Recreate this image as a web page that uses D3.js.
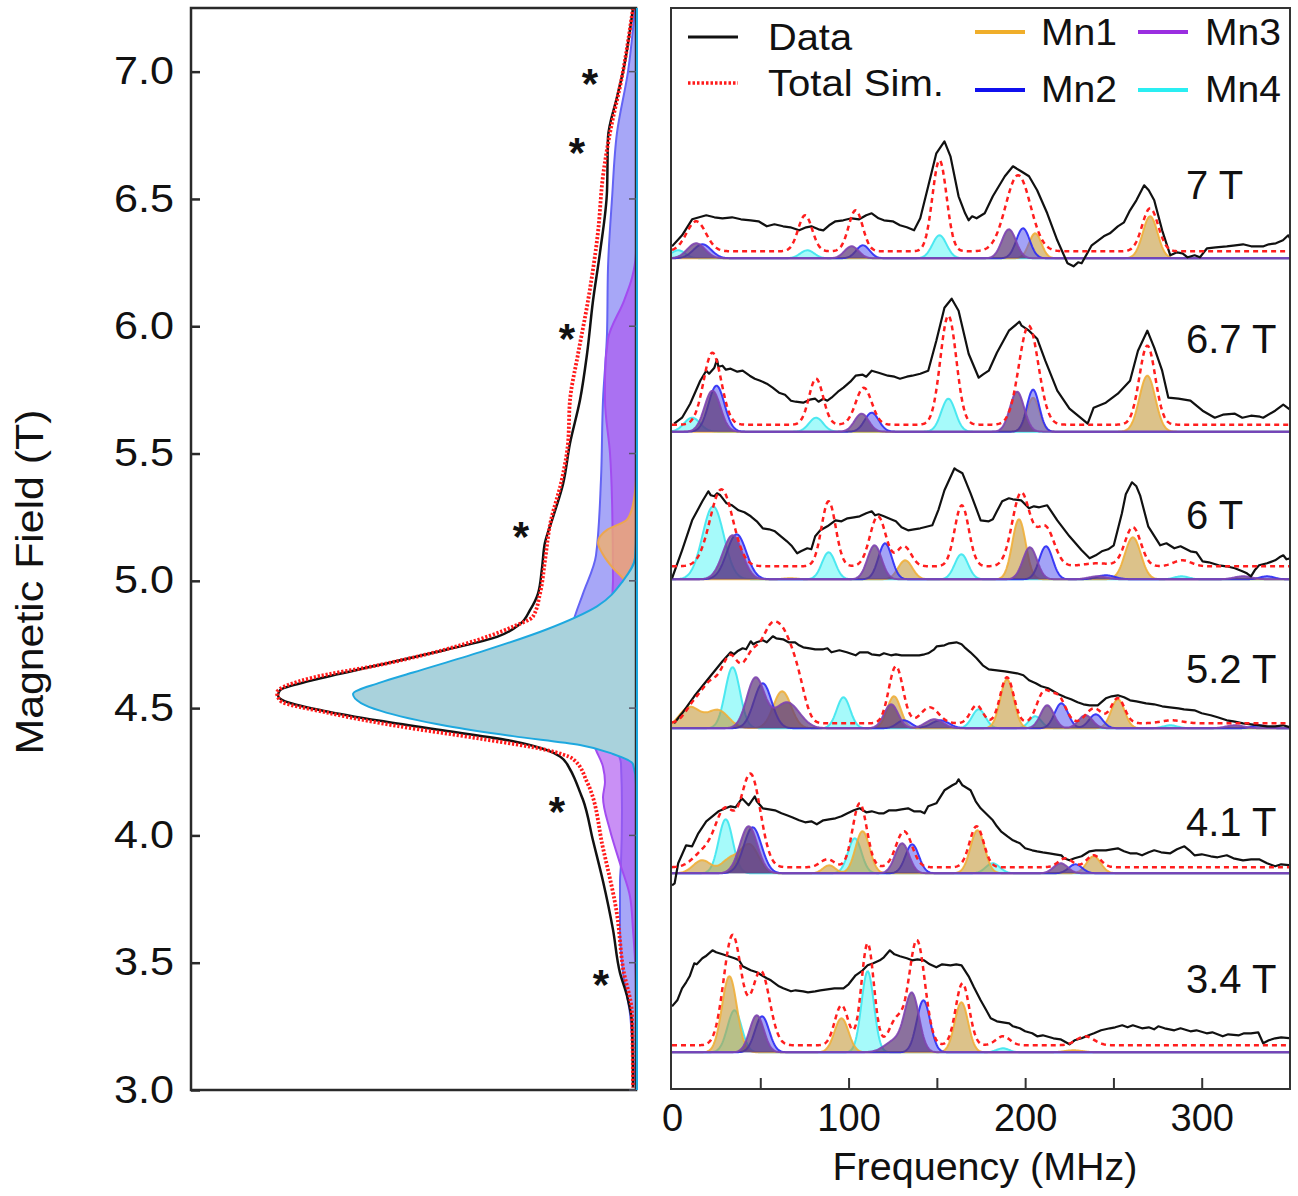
<!DOCTYPE html>
<html><head><meta charset="utf-8">
<script src="https://cdn.jsdelivr.net/npm/d3@7"></script>
<style>body{margin:0;background:#fff} svg{display:block} text{font-family:"Liberation Sans",Arial,sans-serif;fill:#111}</style>
</head><body><svg id="c" width="1298" height="1196"></svg>
<script>
// ---------------- DATA ----------------
// Left panel: [field (T), intensity]
const leftTicks = [3.0,3.5,4.0,4.5,5.0,5.5,6.0,6.5,7.0];
const leftData = [[7.25,.03],[7.0,.13],[6.90,.19],[6.74,.28],[6.53,.29],[6.29,.36],[6.10,.43],[5.89,.49],[5.71,.56],[5.54,.66],[5.38,.73],[5.25,.83],[5.15,.91],[5.05,.94],[4.95,.98],[4.885,1.06],[4.83,1.16],[4.78,1.39],[4.73,1.89],[4.67,2.56],[4.61,3.23],[4.57,3.56],[4.55,3.58],[4.52,3.46],[4.49,3.13],[4.45,2.56],[4.41,1.89],[4.37,1.23],[4.335,.89],[4.31,.76],[4.26,.66],[4.22,.61],[4.17,.56],[4.14,.53],[3.98,.43],[3.82,.33],[3.63,.23],[3.46,.16],[3.37,.09],[3.26,.04],[3.01,.03]];
const leftSim = [[7.25,.03],[6.98,.14],[6.76,.26],[6.59,.33],[6.37,.38],[6.10,.48],[5.89,.58],[5.71,.66],[5.54,.68],[5.40,.74],[5.22,.86],[5.08,.91],[4.95,.96],[4.86,1.03],[4.82,1.23],[4.75,1.73],[4.67,2.56],[4.62,3.23],[4.56,3.59],[4.53,3.56],[4.48,3.06],[4.43,2.39],[4.38,1.56],[4.335,.89],[4.30,.63],[4.21,.49],[3.95,.33],[3.69,.19],[3.48,.13],[3.30,.04],[3.01,.03]];
const leftMn1 = [[5.4,0],[5.30,.03],[5.24,.09],[5.20,.29],[5.15,.38],[5.11,.34],[5.05,.23],[5.01,.13],[4.95,.05],[4.9,0]];
const leftMn2 = [[7.25,.01],[7.0,.08],[6.76,.19],[6.5,.24],[6.23,.28],[5.97,.29],[5.71,.33],[5.4,.35],[5.1,.40],[4.95,.53],[4.85,.62],[4.7,.7],[4.55,.72],[4.45,.62],[4.38,.4],[4.33,.2],[4.28,.15],[4.1,.14],[3.89,.15],[3.82,.16],[3.63,.16],[3.46,.13],[3.30,.06],[3.13,.03],[3.0,0]];
const leftMn3 = [[7.25,0],[6.3,0],[6.19,.04],[6.1,.12],[5.95,.28],[5.8,.31],[5.71,.31],[5.5,.26],[5.32,.24],[5.0,.23],[4.9,.25],[4.7,.4],[4.5,.45],[4.36,.42],[4.27,.33],[4.21,.31],[4.15,.33],[4.02,.26],[3.89,.16],[3.76,.06],[3.63,.03],[3.4,0],[3.0,0]];
const leftMn4 = [[7.25,0],[5.2,0],[5.09,.01],[5.0,.13],[4.9,.39],[4.81,.89],[4.72,1.56],[4.64,2.23],[4.60,2.56],[4.555,2.83],[4.52,2.75],[4.49,2.56],[4.43,1.89],[4.39,1.23],[4.355,.56],[4.32,.23],[4.28,.03],[4.2,0],[3.0,0]];
const starMarks = [[6.99,.46],[6.72,.59],[5.99,.69],[5.21,1.15],[4.13,.79],[3.45,.35]];

// Right panel: field labels, measured spectra [MHz, intensity]
const fieldLabels = ["7 T","6.7 T","6 T","5.2 T","4.1 T","3.4 T"];
const freqLabelTicks = [0,100,200,300];
const freqMinorTicks = [50,100,150,200,250,300];

const spec7 = [[0,.12],[5.7,.23],[11.4,.39],[19.4,.43],[24,.41],[28.6,.40],[34,.41],[39,.39],[44.6,.38],[49,.37],[53.7,.32],[58,.34],[62.9,.32],[67,.31],[72,.28],[76,.31],[78.9,.32],[83,.29],[85.7,.28],[89,.33],[92.6,.37],[97,.38],[101.7,.40],[106,.39],[110,.43],[113.1,.45],[117,.40],[120,.38],[125,.37],[129.1,.33],[133,.31],[137.1,.28],[140.6,.40],[145.1,.72],[149.7,1.05],[154.3,1.17],[157.7,1.02],[162.3,.62],[166,.45],[168,.38],[170,.42],[172.5,.40],[177.1,.45],[181.7,.62],[188.5,.82],[193.1,.92],[197.7,.87],[202.2,.82],[206.8,.68],[212.5,.45],[218.2,.18],[224,-.05],[227.4,-.08],[230,-.04],[232,-.05],[237.7,.13],[244.5,.22],[248,.25],[252.5,.32],[256,.36],[259.4,.48],[263,.58],[267.4,.73],[270,.68],[273.1,.58],[277.6,.28],[282.2,.03],[286,.06],[289.1,.05],[292,.01],[296,.03],[299,.01],[303,.10],[308,.11],[314.2,.12],[319,.13],[323.4,.14],[328,.12],[335,.12],[338,.14],[342,.15],[346,.18],[349,.23],[350,.20]];
const spec67 = [[1.2,.08],[5.7,.14],[10.3,.28],[16,.51],[19.4,.61],[21,.58],[24,.64],[25.5,.72],[26.3,.65],[28.6,.66],[30.5,.62],[33.2,.63],[37,.60],[40,.61],[44,.56],[46.9,.53],[50,.51],[53.7,.48],[57,.44],[60.6,.39],[64,.37],[67.4,.31],[70,.30],[74.3,.29],[78,.32],[81.1,.33],[83,.30],[85.7,.33],[88,.31],[90.3,.34],[94,.40],[97.1,.44],[101,.50],[104,.56],[108,.57],[110,.55],[113.1,.61],[117,.59],[122.3,.56],[126,.55],[129.1,.53],[133,.55],[136,.56],[140.6,.58],[145.1,.61],[149.7,.91],[154.3,1.24],[158.4,1.33],[162.3,1.21],[168,.78],[173.7,.54],[176,.57],[179.4,.61],[184,.79],[190.8,1.01],[196.8,1.10],[198,1.06],[202.2,1.01],[206.8,.93],[211.4,.71],[218.2,.41],[225.1,.23],[232,.13],[235.4,.08],[238.8,.24],[245.7,.29],[252.5,.38],[259.4,.51],[263.9,.81],[269.2,1.01],[273.1,.84],[277.6,.61],[281.1,.34],[286.8,.33],[293.6,.31],[300.5,.21],[307.4,.14],[312,.17],[318.8,.18],[323,.14],[327.9,.16],[333,.15],[334.8,.14],[341.6,.21],[346.2,.27],[350,.22]];
const spec6 = [[0,.01],[5.7,.29],[11.4,.59],[17.2,.78],[20.6,.88],[22,.84],[24,.83],[25.5,.86],[27.4,.84],[30.9,.76],[34,.74],[37.7,.69],[41,.67],[44.6,.63],[48,.58],[51.4,.51],[55,.50],[58.3,.48],[61,.44],[65.1,.38],[68,.33],[70.9,.26],[73,.28],[76.6,.31],[78.9,.30],[81.1,.43],[84,.49],[88,.53],[92.6,.59],[96,.58],[99.4,.61],[103,.62],[106.3,.63],[110,.66],[113.1,.68],[115,.64],[117,.65],[120,.63],[124,.60],[126.8,.58],[130,.52],[133.7,.49],[137,.50],[140.6,.51],[143,.52],[147.4,.54],[151,.70],[154.3,.89],[160,1.11],[161.5,1.09],[164.5,1.06],[169.1,.86],[174.8,.59],[179.4,.58],[181.7,.60],[184,.68],[187,.78],[190.8,.81],[193,.80],[197.7,.79],[202.2,.71],[205,.73],[208,.72],[212.5,.74],[218.2,.59],[225.1,.43],[232,.29],[236.5,.21],[240,.24],[243.4,.28],[247,.30],[250.2,.34],[254.8,.66],[257,.85],[260.5,.97],[263,.93],[265.1,.84],[269.7,.53],[276.5,.34],[280,.36],[284.5,.31],[288,.33],[293.6,.28],[297,.27],[300.5,.18],[304,.17],[309.6,.14],[314,.13],[318.8,.11],[323,.08],[325.6,.06],[327.9,.03],[330,.09],[332.5,.14],[337,.16],[341.6,.19],[344,.22],[346.2,.24],[348,.20],[350,.21]];
const spec52 = [[1.2,.05],[5.7,.15],[12.6,.32],[21.7,.52],[28.6,.67],[33.2,.76],[35,.74],[37,.77],[40,.80],[42,.79],[44.6,.87],[46,.84],[48,.86],[51.4,.88],[53.7,.86],[57.1,.92],[59,.90],[62.9,.89],[66,.86],[69.7,.86],[72,.83],[74.3,.81],[78,.80],[81.1,.79],[85.7,.79],[88,.80],[90.3,.76],[94.8,.78],[99,.76],[104,.73],[106.3,.76],[110.8,.76],[113,.74],[117.7,.73],[120,.75],[124,.73],[126.8,.74],[130,.73],[133.7,.73],[137,.73],[140,.73],[143,.74],[145.1,.75],[148.5,.79],[150,.82],[154.3,.83],[157,.85],[161.1,.86],[164,.84],[165.7,.81],[169,.76],[172.5,.70],[176,.63],[179.4,.59],[184,.58],[188.5,.57],[192,.56],[195.4,.55],[199,.53],[202.2,.48],[206,.45],[209.1,.42],[213,.40],[216,.37],[219,.34],[222.8,.31],[226,.29],[229.7,.26],[233,.24],[236.5,.23],[241.1,.23],[245.7,.30],[249,.32],[252.5,.33],[256,.31],[259.4,.28],[263,.27],[268.5,.25],[273,.24],[277.6,.22],[282,.21],[286.8,.20],[290,.19],[295.9,.18],[300,.15],[305.1,.13],[309,.11],[314.2,.08],[318,.07],[323.4,.05],[328,.04],[332.5,.03],[337,.02],[341.6,.02],[346,.03],[350,.01]];
const spec41 = [[0,-.12],[1.5,-.10],[3.5,.10],[8,.28],[11.4,.27],[14.9,.40],[19.4,.52],[26.3,.62],[33.2,.67],[36,.66],[39.6,.75],[43.4,.68],[46.9,.77],[48,.72],[51.4,.65],[55,.64],[58.3,.63],[62,.60],[65.1,.58],[68,.56],[72,.53],[75.4,.51],[78.9,.52],[82,.49],[85.7,.53],[89,.54],[92.6,.55],[96,.57],[99.4,.60],[103,.63],[106.3,.65],[110,.61],[113.1,.62],[117,.60],[120,.60],[123,.63],[126.8,.63],[130,.64],[133.7,.65],[137,.62],[140.6,.62],[143,.60],[145.1,.67],[149.7,.70],[154.3,.83],[158.8,.88],[161,.90],[162.3,.94],[164.5,.88],[169.1,.83],[172,.72],[174.8,.65],[179.4,.57],[181.7,.53],[184,.47],[186.3,.42],[190,.37],[193.1,.33],[197,.30],[200,.25],[204,.23],[206.8,.22],[210,.21],[213.7,.20],[217,.19],[220.5,.18],[222,.15],[225.1,.13],[228,.15],[232,.17],[236.5,.22],[240,.23],[245.7,.23],[249,.24],[252.5,.25],[256,.22],[259.4,.20],[263,.20],[266.2,.18],[270,.21],[273.1,.23],[277,.21],[282.2,.20],[286,.24],[290.2,.27],[293,.23],[295.9,.18],[300,.19],[305.1,.17],[309,.16],[314.2,.18],[318,.15],[323.4,.13],[328,.14],[332.5,.14],[337,.10],[341.6,.07],[345,.09],[350,.08]];
const spec34 = [[0,.46],[3,.52],[5.7,.64],[8,.70],[10,.76],[12.6,.89],[14,.88],[17.2,.94],[19,.96],[22.9,1.02],[25,1.0],[28.6,.98],[32,.96],[35.4,.94],[38,.92],[40,.86],[44.6,.82],[48,.80],[53.7,.74],[56,.72],[60.6,.66],[63,.64],[67.4,.61],[70,.62],[74.3,.61],[77,.60],[81.1,.61],[84,.62],[88,.63],[92,.64],[97.1,.64],[100,.68],[104,.77],[108,.82],[110.8,.87],[114,.89],[117.7,.92],[120,.95],[123.4,1.02],[126,.98],[129.1,.96],[133,.94],[136,.92],[139,.93],[142.8,.92],[146,.88],[149.7,.85],[153,.88],[157.7,.87],[161,.88],[164,.87],[168,.76],[171,.65],[174.8,.52],[178,.42],[180.5,.34],[184,.31],[187.4,.30],[191,.29],[193.1,.26],[197,.24],[200,.21],[204,.19],[206.8,.16],[210,.17],[216,.14],[220,.13],[225.1,.08],[228,.12],[232,.14],[236,.17],[239,.19],[243,.22],[248,.24],[251,.25],[255,.27],[258,.25],[261,.27],[266.2,.24],[270,.25],[273,.23],[275.4,.26],[279,.24],[284.5,.22],[288,.24],[293.6,.21],[297,.22],[302.8,.19],[306,.20],[311.9,.16],[315,.18],[321.1,.17],[324,.19],[327.9,.19],[332,.20],[334.8,.09],[338,.12],[341.6,.14],[345,.15],[350,.14]];

// Total simulation: baseline + peaks [centre MHz, height, width MHz]
const simBase = [.07,.07,.13,.05,.06,.07];
const sim7 = [[13.7,.30,5.5],[75.4,.36,4],[104,.41,4],[151.5,.91,4],[196,.76,7],[270.8,.43,4.5]];
const sim67 = [[22.9,.72,5],[81.6,.46,4],[108.6,.37,4.5],[156.5,1.09,4.5],[202,.99,5.5],[269.2,.79,4.5]];
const sim6 = [[28,.77,6.5],[88.7,.65,4],[116.6,.50,4.5],[131.4,.20,4],[164.1,.61,4],[197.7,.73,5],[211.4,.39,5],[241,.03,8],[261,.39,4.5],[289,.06,5]];
const sim52 = [[12.6,.18,5],[22,.35,5],[33,.62,5],[45,.60,5],[55,.70,5],[64,.75,5.5],[72,.25,4],[126.8,.57,4],[146,.16,5],[172.5,.18,3.5],[189.7,.46,3.8],[210.5,.30,4],[219,.25,4],[239,.15,4.5],[252.5,.25,3.8],[283,.03,6]];
const sim41 = [[18,.15,6],[30,.55,5.5],[44.6,.92,5.5],[88,.08,4],[106.3,.64,4],[131.4,.36,4.5],[172.5,.41,4],[222.8,.09,4],[238.8,.12,4]];
const sim34 = [[34.3,1.1,5],[50.3,.74,5],[96,.40,3.8],[110.8,1.02,3.5],[127,.25,4],[138.7,1.05,4.5],[164.5,.62,3.8],[187.4,.09,4],[234,.09,5]];

// Site components: peaks [centre MHz, height, width MHz]
const comp7 = {Mn1:[[205.7,.25,3.5],[270.8,.42,4.2]], Mn2:[[17.2,.14,5],[108.1,.13,3.8],[198.8,.30,3.8]], Mn3:[[13.7,.15,5],[101.7,.12,4],[190.8,.29,4]], Mn4:[[3.5,.08,4],[76.6,.08,4],[151.5,.23,4]]};
const comp67 = {Mn1:[[204.5,.34,3.5],[269.2,.56,4.5]], Mn2:[[25.2,.46,4.5],[113.1,.19,4],[204.5,.42,3.5]], Mn3:[[22.9,.41,4.5],[107.4,.18,4],[195.4,.40,4]], Mn4:[[11.4,.14,4.5],[81.6,.14,4],[156.5,.33,4]]};
const comp6 = {Mn1:[[67,.01,4],[132.1,.19,4],[196.5,.60,3.8],[261,.42,4.5]], Mn2:[[36.6,.45,5.5],[120.7,.36,3.8],[211.8,.33,3.8],[245.7,.04,5],[337,.03,4]], Mn3:[[34.3,.44,5.5],[114.7,.34,4],[202.7,.32,4],[241,.03,5],[323.4,.03,5]], Mn4:[[23.3,.73,6],[88.7,.27,3.8],[163.9,.25,3.8],[288.6,.03,4]]};
const comp52 = {Mn1:[[10,.21,6],[26,.18,6],[62.4,.37,5],[125.7,.32,3.8],[189.7,.49,3.8],[252.5,.29,3.8]], Mn2:[[51.4,.45,5],[131.4,.08,4],[152,.08,5],[220.5,.25,3.8],[240,.14,3.8],[332.5,.03,4]], Mn3:[[47.3,.50,5],[65.1,.26,7],[124.1,.24,4],[148.5,.09,5],[212.5,.23,3.8],[234.2,.13,4],[318.8,.03,5]], Mn4:[[34.3,.61,4.2],[97.1,.31,3.8],[173.7,.19,3.8],[205.7,.12,3.5],[282.2,.03,4]]};
const comp41 = {Mn1:[[17,.13,5],[33,.14,5],[44,.28,5],[89,.08,3.5],[107.9,.42,4],[173,.43,4],[238.8,.17,4]], Mn2:[[45.7,.46,5],[136,.29,3.8],[228.5,.09,3.8]], Mn3:[[43.4,.47,5],[130.3,.30,4],[220.1,.10,4]], Mn4:[[30.4,.54,4],[103.5,.35,3.8],[181.7,.10,4]]};
const comp34 = {Mn1:[[32.5,.76,4.2],[96,.34,4],[163.9,.50,3.8],[227.4,.02,5]], Mn2:[[51,.36,4],[142.4,.52,3.8]], Mn3:[[48,.37,4],[126.8,.12,6],[136,.56,4]], Mn4:[[35.4,.42,4],[110.8,.81,3.5],[187.4,.04,3.5]]};

const legendLabels = ["Data","Total Sim.","Mn1","Mn2","Mn3","Mn4"];

// ---------------- LAYOUT / STYLE ----------------
const specData = [spec7,spec67,spec6,spec52,spec41,spec34];
const simPeaks = [sim7,sim67,sim6,sim52,sim41,sim34];
const comps = [comp7,comp67,comp6,comp52,comp41,comp34];
const specOffset = [8.307,6.573,5.097,3.607,2.157,0.367];
const labelBase = [199,353,529,683,836,993];
const drawOrder = ["Mn4","Mn1","Mn2","Mn3"];
const specStyle = {
  Mn1:{fill:"#c49a3c",op:.6,stroke:"#efaf3a"},
  Mn2:{fill:"#4848f0",op:.5,stroke:"#2a2af5"},
  Mn3:{fill:"#5e3a78",op:.72,stroke:"#7e44b0"},
  Mn4:{fill:"#00f0f0",op:.35,stroke:"#3de6ee"}
};
const legColors = {Mn1:"#f0ae2a",Mn2:"#1010ee",Mn3:"#9a2ee0",Mn4:"#2aeef2"};
const FONT = '"Liberation Sans",Arial,sans-serif';

const svg = d3.select("#c");
const defs = svg.append("defs");
defs.append("clipPath").attr("id","clipL").append("rect").attr("x",191).attr("y",8).attr("width",446).attr("height",1082);
defs.append("clipPath").attr("id","clipR").append("rect").attr("x",672).attr("y",9).attr("width",617).attr("height",1079);

function gauss(peaks, f){ let s=0; for(const [c,h,w] of peaks) s += h*Math.exp(-((f-c)*(f-c))/(2*w*w)); return s; }
const grid = d3.range(0, 350.001, 0.5);

// ---------------- LEFT PANEL ----------------
const yT = d3.scaleLinear().domain([3.0,7.25]).range([1090,8]);
const xI = d3.scaleLinear().domain([0,4.45]).range([636,191]);
const gL = svg.append("g");
const gLc = gL.append("g").attr("clip-path","url(#clipL)");
const areaL = d3.area().curve(d3.curveMonotoneY).y(d=>yT(d[0])).x0(xI(0)).x1(d=>xI(d[1]));
const lineL = d3.line().curve(d3.curveMonotoneY).y(d=>yT(d[0])).x(d=>xI(d[1]));
const leftLayers = [
  {d:leftMn2, fill:"rgba(80,80,240,0.5)", stroke:"#6464f4"},
  {d:leftMn3, fill:"rgba(172,85,240,0.65)", stroke:"#a24cf0"},
  {d:leftMn1, fill:"rgba(246,176,100,0.75)", stroke:"#eca650"},
  {d:leftMn4, fill:"#a9d2dc", stroke:"#1ea8df"}
];
leftLayers.forEach(l=>{
  gLc.append("path").attr("d",areaL(l.d)).attr("fill",l.fill).attr("stroke","none");
  gLc.append("path").attr("d",lineL(l.d)).attr("fill","none").attr("stroke",l.stroke).attr("stroke-width",2);
});
gLc.append("path").attr("d",lineL(leftData)).attr("fill","none").attr("stroke","#111").attr("stroke-width",2.5);
gLc.append("path").attr("d",lineL(leftSim)).attr("fill","none").attr("stroke","#ff1a1a").attr("stroke-width",3.8).attr("stroke-dasharray","2.2,1.8");
// frame
gL.append("rect").attr("x",191).attr("y",8).attr("width",445).attr("height",1082).attr("fill","none").attr("stroke","#2a2a2a").attr("stroke-width",2.5);
gL.append("line").attr("x1",xI(0)+1).attr("x2",xI(0)+1).attr("y1",8).attr("y2",1090).attr("stroke","#1ea8df").attr("stroke-width",2);
// axis
const axL = gL.append("g").attr("transform","translate(191,0)")
  .call(d3.axisLeft(yT).tickValues(leftTicks).tickSize(-9).tickPadding(17).tickFormat(d3.format(".1f")));
axL.select(".domain").remove();
axL.selectAll("line").attr("stroke","#2a2a2a").attr("stroke-width",2.5);
axL.selectAll("text").attr("font-size",38).attr("fill","#111").attr("textLength",60).attr("lengthAdjust","spacingAndGlyphs").style("font-family",FONT);
gL.selectAll(".rt").data(leftTicks).enter().append("line")
  .attr("x1",xI(0)-7).attr("x2",xI(0)).attr("y1",d=>yT(d)).attr("y2",d=>yT(d)).attr("stroke","#556").attr("stroke-width",1.5);
// asterisks
gL.selectAll(".star").data(starMarks).enter().append("text")
  .attr("x",d=>xI(d[1])).attr("y",d=>yT(d[0])+24).attr("text-anchor","middle").attr("font-size",42).attr("font-weight","bold").text("*");
// y title
svg.append("text").attr("transform","translate(43,582) rotate(-90)").attr("text-anchor","middle")
  .attr("font-size",39).attr("textLength",345).attr("lengthAdjust","spacingAndGlyphs").text("Magnetic Field (T)");

// ---------------- RIGHT PANEL ----------------
const xF = d3.scaleLinear().domain([0,350]).range([672,1290]);
const yS = d3.scaleLinear().domain([0,10.81]).range([1089,8]);
const gR = svg.append("g");
const gRc = gR.append("g").attr("clip-path","url(#clipR)");
specData.forEach((spec,i)=>{
  const off = specOffset[i];
  const g = gRc.append("g");
  drawOrder.forEach(mn=>{
    const pts = grid.map(f=>[f, gauss(comps[i][mn], f)]);
    const st = specStyle[mn];
    g.append("path").attr("d", d3.area().x(d=>xF(d[0])).y0(yS(off)).y1(d=>yS(off+d[1]))(pts))
      .attr("fill",st.fill).attr("fill-opacity",st.op);
    g.append("path").attr("d", d3.line().x(d=>xF(d[0])).y(d=>yS(off+d[1]))(pts))
      .attr("fill","none").attr("stroke",st.stroke).attr("stroke-width",2).attr("stroke-opacity",.9);
  });
  g.append("path").attr("d", d3.line().x(d=>xF(d[0])).y(d=>yS(off+d[1]))(spec))
    .attr("fill","none").attr("stroke","#111").attr("stroke-width",2.2).attr("stroke-linejoin","round");
  const simPts = grid.map(f=>[f, simBase[i]+gauss(simPeaks[i], f)]);
  g.append("path").attr("d", d3.line().x(d=>xF(d[0])).y(d=>yS(off+d[1]))(simPts))
    .attr("fill","none").attr("stroke","#ff1e1e").attr("stroke-width",2.5).attr("stroke-dasharray","5,4");
  gR.append("text").attr("x",1186).attr("y",labelBase[i]).attr("font-size",40).text(fieldLabels[i]);
});
gR.append("rect").attr("x",671).attr("y",8).attr("width",619).attr("height",1081).attr("fill","none").attr("stroke","#333").attr("stroke-width",2);
const axMinor = gR.append("g").attr("transform","translate(0,1089)")
  .call(d3.axisBottom(xF).tickValues(freqMinorTicks).tickSize(-11).tickFormat(""));
axMinor.select(".domain").remove();
axMinor.selectAll("line").attr("stroke","#333").attr("stroke-width",2);
const axF = gR.append("g").attr("transform","translate(0,1089)")
  .call(d3.axisBottom(xF).tickValues(freqLabelTicks).tickSize(0).tickPadding(15));
axF.select(".domain").remove();
axF.selectAll("text").attr("font-size",38).attr("fill","#111").style("font-family",FONT);
svg.append("text").attr("x",985).attr("y",1180).attr("text-anchor","middle").attr("font-size",38)
  .attr("textLength",305).attr("lengthAdjust","spacingAndGlyphs").text("Frequency (MHz)");

// ---------------- LEGEND ----------------
const leg = svg.append("g");
const legItems = [
  {lab:legendLabels[0], x1:688, y:37, tx:768, ty:50, color:"#111", dash:null, w:3, len:84},
  {lab:legendLabels[1], x1:688, y:83, tx:768, ty:96, color:"#ff1a1a", dash:"2.5,2", w:3.5, len:176},
  {lab:legendLabels[2], x1:975, y:32, tx:1041, ty:45, color:legColors.Mn1, dash:null, w:4, len:76},
  {lab:legendLabels[3], x1:975, y:90, tx:1041, ty:102, color:legColors.Mn2, dash:null, w:4, len:76},
  {lab:legendLabels[4], x1:1138, y:32, tx:1205, ty:45, color:legColors.Mn3, dash:null, w:4, len:76},
  {lab:legendLabels[5], x1:1138, y:90, tx:1205, ty:102, color:legColors.Mn4, dash:null, w:4, len:76}
];
legItems.forEach(it=>{
  leg.append("line").attr("x1",it.x1).attr("x2",it.x1+50).attr("y1",it.y).attr("y2",it.y)
    .attr("stroke",it.color).attr("stroke-width",it.w).attr("stroke-dasharray",it.dash);
  leg.append("text").attr("x",it.tx).attr("y",it.ty).attr("font-size",36)
    .attr("textLength",it.len).attr("lengthAdjust","spacingAndGlyphs").text(it.lab);
});
</script></body></html>
